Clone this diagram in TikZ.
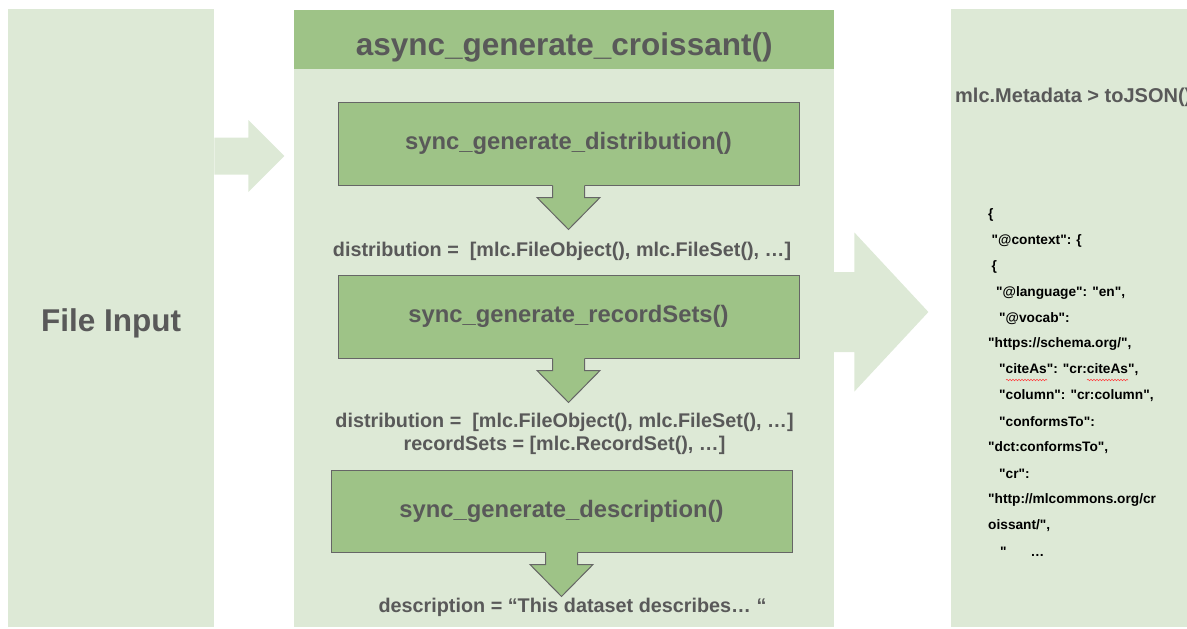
\documentclass[tikz,border=0pt]{standalone}
\usepackage{fontspec}
\setmainfont{Liberation Sans}[Ligatures=TeXOff]
\usetikzlibrary{positioning, calc, decorations.pathmorphing}

\definecolor{panelgreen}{HTML}{DDE9D6}
\definecolor{boxgreen}{HTML}{9EC387}
\definecolor{textgray}{HTML}{595959}
\definecolor{edgegray}{HTML}{666666}

\begin{document}
\begin{tikzpicture}[
      x=1pt, y=-1pt,
      panel/.style ={rectangle, fill=panelgreen, inner sep=0pt, anchor=north west},
      header/.style={rectangle, fill=boxgreen, inner sep=0pt, text=textgray, font=\bfseries\fontsize{31.5}{36}\selectfont},
      func/.style  ={rectangle, draw=edgegray, line width=1pt, fill=boxgreen, inner sep=0pt, minimum width=461pt, minimum height=83pt, text=textgray, font=\bfseries\fontsize{23.8}{28}\selectfont},
      result/.style={inner sep=0pt, align=center, text=textgray, font=\bfseries\fontsize{19.8}{23}\selectfont},
      json/.style  ={anchor=west, inner sep=0pt, text=black, font=\bfseries\fontsize{13.7}{16}\selectfont},
      spell/.style ={draw=red!75, line width=0.6pt, decorate, decoration={snake, amplitude=0.7pt, segment length=3pt}}
    ]
    \useasboundingbox (0,0) rectangle (1187,629);

    % Paneler
    \node[panel, minimum width=206pt, minimum height=618pt, text height=26pt, text depth=0pt, text=textgray, font=\bfseries\fontsize{31.5}{36}\selectfont] (inp) at (8,9) {File Input};
    \node[panel, minimum width=540pt, minimum height=617pt] (gen) at (294,10) {};
    \node[panel, minimum width=250pt, minimum height=618pt] (out) at (951,9) {};

    % Store piler mellom panelene
    \begin{scope}[shift={($(inp.north east)+(0,147)$)}]
      \fill[panelgreen] (0,-18.5) -- (34,-18.5) -- (34,-36) -- (70,0) -- (34,36) -- (34,18.5) -- (0,18.5) -- cycle;
    \end{scope}
    \begin{scope}[shift={($(gen.north east)+(0,302)$)}]
      \fill[panelgreen] (-1,-40) -- (20,-40) -- (20,-79.5) -- (94,0) -- (20,79.5) -- (20,40) -- (-1,40) -- cycle;
    \end{scope}

    % Overskrift
    \node[header, minimum width=540pt, minimum height=59pt, text height=31pt, text depth=0pt, anchor=north] (hd) at (gen.north) {async\_generate\_croissant()};

    % Funksjons-bokser
    \node[func] (d1) at (568.5,143.5) {sync\_generate\_distribution()};
    \node[func, below=89pt of d1] (d2) {sync\_generate\_recordSets()};
    \node[func, below=111pt of d2, xshift=-7pt, minimum height=82pt] (d3) {sync\_generate\_description()};

    % Piler ned fra boksene
    \foreach \b in {d1,d2,d3} {
      \begin{scope}[shift={(\b.south)}]
        \fill[boxgreen] (-16,-1) -- (-16,12) -- (-31.5,12) -- (0,44) -- (31.5,12) -- (16,12) -- (16,-1) -- cycle;
        \draw[edgegray, line width=1pt] (-16,0) -- (-16,12) -- (-31.5,12) -- (0,44) -- (31.5,12) -- (16,12) -- (16,0);
      \end{scope}
    }

    % Resultater
    \node[result] (r1) at (562,251) {distribution =\ \ [mlc.FileObject(), mlc.FileSet(), …]};
    \node[result] (r2) at (564.5,434) {distribution =\ \ [mlc.FileObject(), mlc.FileSet(), …]\\recordSets = [mlc.RecordSet(), …]};
    \node[result] (r3) at (572.5,607) {description = “This dataset describes… “};

    % JSON-utdata
    \node[json, text=textgray, font=\bfseries\fontsize{20}{23}\selectfont] (meta) at (955,97) {mlc.Metadata > toJSON()};
    \node[json] (j1)  at (988,215)   {\{};
    \node[json] (j2)  at (991.5,241) {"@context": \{};
    \node[json] (j3)  at (991.5,267) {\{};
    \node[json] (j4)  at (996,293)   {"@language": "en",};
    \node[json] (j5)  at (999,319)   {"@vocab":};
    \node[json] (j6)  at (988,344)   {"https://schema.org/",};
    \node[json] (j7)  at (999,370)   {"citeAs": "cr:citeAs",};
    \node[json] (j8)  at (999,396)   {"column": "cr:column",};
    \node[json] (j9)  at (999,422)   {"conformsTo":};
    \node[json] (j10) at (988,448)   {"dct:conformsTo",};
    \node[json] (j11) at (999,474)   {"cr":};
    \node[json] (j12) at (988,500)   {"http://mlcommons.org/cr};
    \node[json] (j13) at (988,526)   {oissant/",};
    \node[json] (j14) at (1000,552)  {"\hspace{24pt}…};

    % Stavekontroll-streker
    \draw[spell] ($(j7.west)+(7,10)$) -- ++(41,0);
    \draw[spell] ($(j7.west)+(88,10)$) -- ++(41,0);

  \end{tikzpicture}
\end{document}
